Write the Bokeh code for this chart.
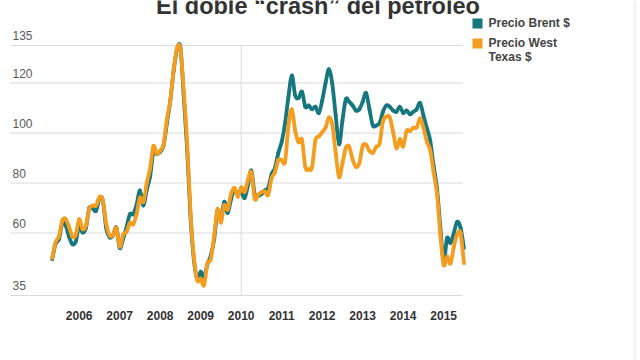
import pandas as pd
from bokeh.plotting import figure
from bokeh.models import Range1d
from bokeh.core.properties import value
from bokeh.embed import file_html
from bokeh.resources import INLINE

# ---- data -----------------------------------------------------------------
months = pd.date_range("2005-05-01", "2015-07-01", freq="MS")

brent = [
    49.5, 55.6, 57.5, 63.9, 62.9, 58.5, 55.5, 56.7,
    63.0, 60.2, 62.1, 70.0, 69.8, 68.8, 73.9, 73.0, 62.0, 58.3, 59.0, 62.2,
    54.0, 57.6, 62.1, 67.5, 67.5, 71.3, 77.0, 71.0, 77.2, 82.5, 92.5, 91.5,
    92.5, 95.0, 104.0, 113.0, 125.0, 133.5, 134.0, 114.0, 93.0, 66.0, 49.0, 41.6,
    44.5, 42.5, 47.5, 51.0, 57.5, 69.0, 65.5, 72.5, 68.0, 73.5, 77.5, 75.0,
    76.5, 74.0, 79.0, 85.0, 75.5, 74.8, 75.6, 77.0, 78.0, 83.5, 86.0, 92.0,
    96.5, 104.0, 114.5, 123.0, 115.0, 114.0, 116.5, 110.5, 111.0, 109.5, 110.5, 108.0,
    113.0, 120.0, 125.5, 119.5, 107.0, 95.5, 105.0, 113.5, 112.5, 111.0, 109.0, 109.5,
    112.5, 116.0, 109.5, 103.0, 103.0, 104.0, 108.5, 111.0, 110.5, 109.0, 108.5, 110.5,
    108.0, 109.0, 107.5, 108.5, 109.5, 112.0, 107.0, 102.0, 97.0, 87.0, 78.0, 62.5,
    48.5, 58.0, 56.0, 60.0, 64.5, 62.0, 54.0,
]

wti = [
    50.0, 56.3, 58.7, 65.0, 65.6, 62.4, 58.5, 59.4,
    65.5, 61.6, 63.0, 69.7, 71.0, 71.0, 74.4, 73.0, 63.8, 59.0, 59.1, 62.0,
    54.5, 59.3, 60.4, 64.0, 63.5, 67.5, 74.1, 72.4, 79.9, 85.8, 94.8, 91.7,
    93.0, 95.4, 105.5, 113.0, 125.5, 134.0, 133.4, 116.5, 96.0, 68.0, 50.0, 41.0,
    41.7, 39.1, 47.9, 49.6, 59.0, 69.6, 64.2, 71.1, 69.4, 75.7, 78.0, 74.5,
    78.3, 76.4, 81.2, 84.3, 73.7, 75.3, 76.3, 76.6, 75.2, 81.9, 84.3, 89.2,
    89.2, 88.6, 102.9, 109.5, 100.9, 96.3, 97.3, 86.3, 85.5, 86.3, 97.2, 98.6,
    100.3, 102.2, 106.2, 103.3, 92.0, 82.3, 87.9, 94.1, 94.5, 89.5, 86.5, 87.9,
    94.8, 95.3, 92.9, 92.0, 94.5, 95.8, 104.6, 106.6, 106.3, 100.5, 93.9, 97.6,
    94.6, 100.8, 100.8, 102.1, 102.2, 105.8, 102.0, 96.5, 93.2, 84.4, 75.8, 59.5,
    47.2, 50.6, 47.8, 54.5, 59.5, 59.8, 48.0,
]

y_ticks = [35, 60, 80, 100, 120, 135]
y_tick_labels = ["35", "60", "80", "100", "120", "135"]
years = [2006, 2007, 2008, 2009, 2010, 2011, 2012, 2013, 2014, 2015]
year_labels = [str(y) for y in years]
divider_year = [2010]
title_text = "El doble “crash” del petróleo"
legend_lines = ["Precio Brent $", "Precio West", "Texas $"]

# ---- layout helpers (page pixels -> data) ---------------------------------
W, H = 640, 360
PX_PER_YEAR = 40.5
X2006_PX = 78.7
PX_PER_UNIT = 2.5
Y35_PX = 295.0


def xd(px):
    return 2006 + (px - X2006_PX) / PX_PER_YEAR


def yd(py):
    return 35 + (Y35_PX - py) / PX_PER_UNIT


TEAL = "#17777e"
ORANGE = "#f49d1e"
FONT = value("Liberation Sans")

x = list(months.year + (months.month - 1) / 12.0)


def smooth_segments(xs, ys):
    """Catmull-Rom curve through the data points, as cubic Bezier pieces."""
    k = len(xs)
    out = dict(x0=[], y0=[], x1=[], y1=[], cx0=[], cy0=[], cx1=[], cy1=[])
    for i in range(k - 1):
        a = max(i - 1, 0)
        d = min(i + 2, k - 1)
        out["x0"].append(xs[i]); out["y0"].append(ys[i])
        out["x1"].append(xs[i + 1]); out["y1"].append(ys[i + 1])
        out["cx0"].append(xs[i] + (xs[i + 1] - xs[a]) / 6.0)
        out["cy0"].append(ys[i] + (ys[i + 1] - ys[a]) / 6.0)
        out["cx1"].append(xs[i + 1] - (xs[d] - xs[i]) / 6.0)
        out["cy1"].append(ys[i + 1] - (ys[d] - ys[i]) / 6.0)
    return out


p = figure(
    width=W, height=H,
    x_range=Range1d(xd(0), xd(W)), y_range=Range1d(yd(H), yd(0)),
    output_backend="svg", toolbar_location=None,
    x_axis_location=None, y_axis_location=None,
    min_border=0, min_border_left=0, min_border_right=0,
    min_border_top=0, min_border_bottom=0,
)
p.grid.visible = False
p.outline_line_color = None
p.background_fill_color = "white"
p.border_fill_color = "white"
p.styles = {"position": "absolute", "top": "0px", "left": "0px"}

# grid lines
n = len(y_ticks)
p.segment(x0=[xd(10)] * n, y0=y_ticks, x1=[xd(462)] * n, y1=y_ticks,
          line_color="#dadada", line_width=1)
p.segment(x0=divider_year, y0=[y_ticks[0]], x1=divider_year, y1=[y_ticks[-1]],
          line_color="#dadada", line_width=1)
# right border of the graphic
p.segment(x0=[xd(634.5)], y0=[yd(0)], x1=[xd(634.5)], y1=[yd(H)],
          line_color="#e2e2e2", line_width=1)

# y tick labels (sit above their grid line)
p.text(x=[xd(12)] * n, y=y_ticks, text=y_tick_labels, text_font=FONT,
       text_font_size="12px", text_color="#5a5a5a", text_baseline="middle",
       text_align="left", y_offset=-10)

# x labels
p.text(x=years, y=[yd(315)] * len(years), text=year_labels, text_font=FONT,
       text_font_size="12px", text_font_style="bold", text_color="#333333",
       text_align="center", text_baseline="middle")

# series (smooth curves through the monthly values)
for ys, col in ((brent, TEAL), (wti, ORANGE)):
    p.bezier(line_color=col, line_width=3.8, line_cap="round",
             **smooth_segments(x, ys))

# title (its top is cut by the top edge, as in the original)
p.text(x=[xd(317.5)], y=[yd(5.5)], text=[title_text], text_font=FONT,
       text_font_size="23.5px", text_font_style="bold", text_color="#333333",
       text_align="center", text_baseline="middle")

# legend
p.scatter(x=[xd(477)] * 2, y=[yd(23), yd(43)], marker="square", size=10,
          fill_color=[TEAL, ORANGE], line_color=None)
p.text(x=[xd(488)] * 3, y=[yd(22), yd(42), yd(56)], text=legend_lines,
       text_font=FONT, text_font_size="12px", text_font_style="bold",
       text_color="#444444", text_align="left", text_baseline="middle")

open("out.html", "w").write(file_html(p, INLINE))
